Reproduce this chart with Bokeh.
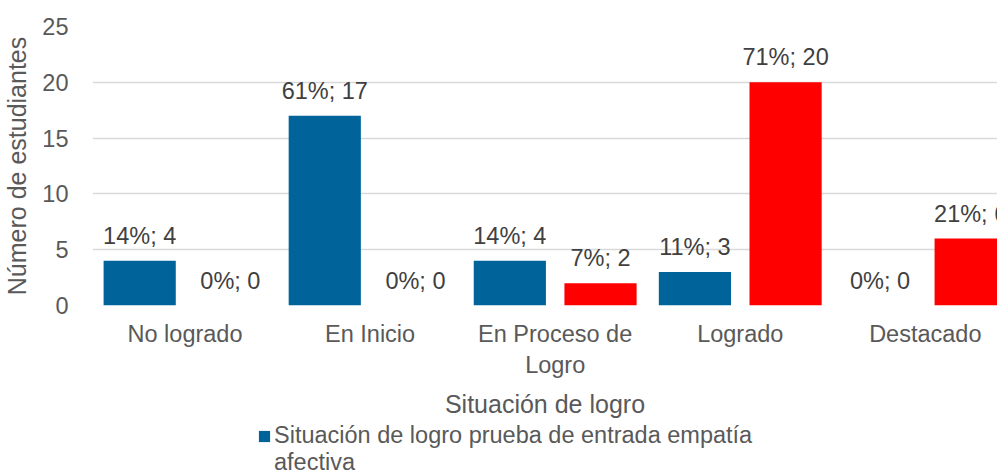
from bokeh.plotting import figure
from bokeh.layouts import column
from bokeh.models import ColumnDataSource, Range1d, FixedTicker, Legend, LegendItem
from bokeh.embed import file_html
from bokeh.resources import INLINE
from bokeh.core.properties import value

cats = ["No logrado", "En Inicio", "En Proceso de\nLogro", "Logrado", "Destacado"]
entrada = [4, 17, 4, 3, 0]
salida = [0, 0, 2, 20, 6]
pct_entrada = [14, 61, 14, 11, 0]
pct_salida = [0, 0, 7, 71, 21]
y_ticks = [0, 5, 10, 15, 20, 25]
legend_lines = ["Situación de logro prueba de entrada empatía", "afectiva"]

FONT = "Liberation Sans"
BLUE = "#00649A"
RED = "#FF0000"
GRAY = "#595959"

pos = [i + 0.5 for i in range(len(cats))]
off = 0.245
bw = 0.39

src_e = ColumnDataSource(dict(
    x=[p - off for p in pos], top=entrada,
    lab=[f"{p}%; {v}" for p, v in zip(pct_entrada, entrada)]))
src_s = ColumnDataSource(dict(
    x=[p + off for p in pos], top=salida,
    lab=[f"{p}%; {v}" for p, v in zip(pct_salida, salida)]))

p = figure(width=997, height=422, output_backend="svg", toolbar_location=None,
           x_range=Range1d(0, 4.89), y_range=Range1d(0, 25),
           min_border_left=85, min_border_right=0, min_border_top=26,
           min_border_bottom=117)
p.outline_line_color = None
p.background_fill_color = "white"
p.border_fill_color = "white"

r1 = p.vbar(x="x", top="top", width=bw, source=src_e, fill_color=BLUE, line_color=None)
r2 = p.vbar(x="x", top="top", width=bw, source=src_s, fill_color=RED, line_color=None)

for s in (src_e, src_s):
    p.text(x="x", y="top", text="lab", source=s, text_align="center",
           text_baseline="alphabetic", y_offset=-25, text_font=value(FONT),
           text_font_size="23.5px", text_color="#404040")

p.xgrid.visible = False
p.ygrid.grid_line_color = "#d9d9d9"
p.ygrid.grid_line_width = 1.3
p.ygrid.ticker = FixedTicker(ticks=y_ticks)

p.yaxis.ticker = FixedTicker(ticks=y_ticks)
p.yaxis.axis_line_color = None
p.yaxis.major_tick_line_color = None
p.yaxis.minor_tick_line_color = None
p.yaxis.major_label_text_font = FONT
p.yaxis.major_label_text_font_size = "23.5px"
p.yaxis.major_label_text_color = GRAY
p.yaxis.major_label_standoff = 18
p.yaxis.axis_label = "Número de estudiantes"
p.yaxis.axis_label_text_font = FONT
p.yaxis.axis_label_text_font_size = "25px"
p.yaxis.axis_label_text_font_style = "normal"
p.yaxis.axis_label_text_color = GRAY
p.yaxis.axis_label_standoff = 8

p.xaxis.ticker = FixedTicker(ticks=pos)
p.xaxis.major_label_overrides = {pp: c for pp, c in zip(pos, cats)}
p.xaxis.axis_line_color = None
p.xaxis.major_tick_line_color = None
p.xaxis.minor_tick_line_color = None
p.xaxis.major_label_text_font = FONT
p.xaxis.major_label_text_font_size = "23.5px"
p.xaxis.major_label_text_color = GRAY
p.xaxis.major_label_text_line_height = 1.2
p.xaxis.major_label_standoff = 9
p.xaxis.axis_label = "Situación de logro"
p.xaxis.axis_label_text_font = FONT
p.xaxis.axis_label_text_font_size = "25px"
p.xaxis.axis_label_text_font_style = "normal"
p.xaxis.axis_label_text_color = GRAY
p.xaxis.axis_label_standoff = 9

# legend strip below the chart; proxy renderers lie far outside its visible ranges
pl = figure(width=997, height=49, output_backend="svg", toolbar_location=None,
            x_range=Range1d(100, 101), y_range=Range1d(100, 101),
            x_axis_type=None, y_axis_type=None,
            min_border_left=85, min_border_right=0, min_border_top=0,
            min_border_bottom=0)
pl.outline_line_color = None
pl.xgrid.visible = False
pl.ygrid.visible = False
lr1 = pl.vbar(x="x", top="top", width=bw, source=src_e, fill_color=BLUE, line_color=None)
ldummy = pl.vbar(x="x", top="top", width=bw, source=src_e, fill_alpha=0, line_alpha=0)
legend = Legend(items=[LegendItem(label=legend_lines[0], renderers=[lr1]),
                       LegendItem(label=legend_lines[1], renderers=[ldummy])],
                location=(165, -5), orientation="vertical",
                label_text_font=FONT, label_text_font_size="23.5px",
                label_text_color=GRAY, glyph_width=14, glyph_height=14,
                label_height=14, label_standoff=3, padding=0, margin=0, spacing=-4,
                border_line_color=None, background_fill_alpha=0)
pl.add_layout(legend, "center")

layout = column(p, pl, spacing=0, width=997, height=471, sizing_mode="fixed")
open("out.html", "w").write(file_html(layout, INLINE))
